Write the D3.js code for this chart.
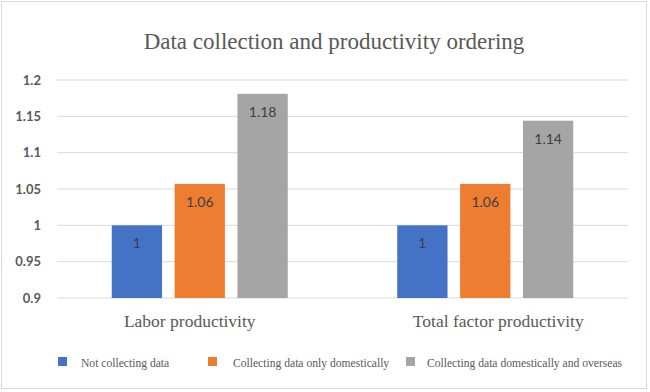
<!DOCTYPE html>
<html>
<head>
<meta charset="utf-8">
<script src="https://cdn.jsdelivr.net/npm/d3@7"></script>
<style>
  body { margin: 0; background: #fff; }
  svg { display: block; }
</style>
</head>
<body>
<svg width="650" height="392"></svg>
<script>
const categories = ['Labor productivity', 'Total factor productivity'];
const seriesNames = ['Not collecting data', 'Collecting data only domestically', 'Collecting data domestically and overseas'];
const notCollecting = [1, 1];
const domesticOnly = [1.057, 1.057];
const domesticOverseas = [1.181, 1.144];
const labelText = [['1', '1'], ['1.06', '1.06'], ['1.18', '1.14']];
const yTicks = [0.9, 0.95, 1, 1.05, 1.1, 1.15, 1.2];
const colors = ['#4472C4', '#ED7D31', '#A5A5A5'];

const w = 650;
const h = 392;
const plotLeft = 57;
const plotRight = 628;
const plotTop = 80;
const plotBottom = 298;
const serif = "'Liberation Serif', 'DejaVu Serif', serif";
const sans = "Lato, 'Open Sans', sans-serif";

const series = [notCollecting, domesticOnly, domesticOverseas];

const svg = d3.select('svg');

// chart border
svg.append('rect')
  .attr('x', 1.5)
  .attr('y', 1.5)
  .attr('width', w - 5)
  .attr('height', h - 5)
  .attr('fill', '#fff')
  .attr('stroke', '#d9d9d9');

const x0 = d3.scaleBand()
  .domain(categories)
  .range([plotLeft, plotRight]);

const x1 = d3.scaleBand()
  .domain(d3.range(series.length))
  .range([0, 176])
  .paddingInner(0.2);

const y = d3.scaleLinear()
  .domain([0.9, 1.2])
  .range([plotBottom, plotTop]);

// gridlines
svg.append('g')
  .selectAll('line')
  .data(yTicks)
  .enter()
  .append('line')
  .attr('x1', plotLeft)
  .attr('x2', plotRight)
  .attr('y1', d => y(d))
  .attr('y2', d => y(d))
  .attr('stroke', '#d9d9d9')
  .attr('stroke-width', 1);

// y labels
const yAxis = d3.axisLeft(y)
  .tickValues(yTicks)
  .tickSize(0)
  .tickPadding(0)
  .tickFormat(d => String(+d.toFixed(2)));
svg.append('g')
  .attr('transform', `translate(41, 0)`)
  .call(yAxis)
  .call(g => g.select('.domain').remove())
  .selectAll('text')
  .attr('font-family', sans)
  .attr('font-size', 13)
  .attr('font-weight', 'bold')
  .attr('fill', '#595959');

// bars
const groups = svg.append('g')
  .selectAll('g')
  .data(categories)
  .enter()
  .append('g')
  .attr('transform', d => `translate(${x0(d) + (x0.bandwidth() - 176) / 2}, 0)`);

groups.selectAll('rect')
  .data((c, ci) => series.map((s, si) => ({ si, ci, v: s[ci] })))
  .enter()
  .append('rect')
  .attr('x', d => x1(d.si))
  .attr('y', d => y(d.v))
  .attr('width', x1.bandwidth())
  .attr('height', d => y(0.9) - y(d.v))
  .attr('fill', d => colors[d.si]);

groups.selectAll('text')
  .data((c, ci) => series.map((s, si) => ({ si, ci, v: s[ci] })))
  .enter()
  .append('text')
  .attr('x', d => x1(d.si) + x1.bandwidth() / 2)
  .attr('y', d => y(d.v) + 23)
  .attr('text-anchor', 'middle')
  .attr('font-family', sans)
  .attr('font-size', 14)
  .attr('fill', '#404040')
  .text(d => labelText[d.si][d.ci]);

// category labels
const catShift = [-10, 13];
svg.append('g')
  .selectAll('text')
  .data(categories)
  .enter()
  .append('text')
  .attr('x', (d, i) => x0(d) + x0.bandwidth() / 2 + catShift[i])
  .attr('y', 327)
  .attr('text-anchor', 'middle')
  .attr('font-family', serif)
  .attr('font-size', 17.5)
  .attr('fill', '#595959')
  .text(d => d);

// title
svg.append('text')
  .attr('x', 334)
  .attr('y', 49)
  .attr('text-anchor', 'middle')
  .attr('font-family', serif)
  .attr('font-size', 23)
  .attr('fill', '#595959')
  .text('Data collection and productivity ordering');

// legend
const legendX = [58, 208, 406];
const legend = svg.append('g')
  .selectAll('g')
  .data(seriesNames)
  .enter()
  .append('g')
  .attr('transform', (d, i) => `translate(${legendX[i]}, 357)`);

legend.append('rect')
  .attr('width', 9)
  .attr('height', 9)
  .attr('fill', (d, i) => colors[i]);

legend.append('text')
  .attr('x', (d, i) => [23, 25, 21][i])
  .attr('y', 10)
  .attr('font-family', serif)
  .attr('font-size', 11.6)
  .attr('fill', '#595959')
  .text(d => d);
</script>
</body>
</html>
